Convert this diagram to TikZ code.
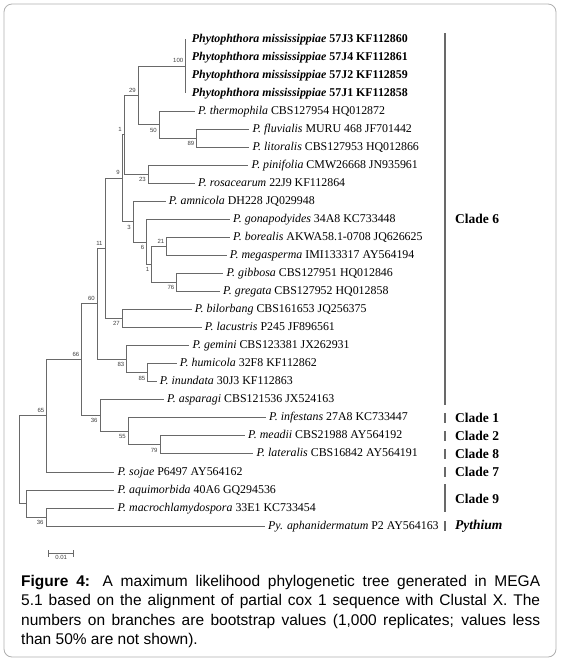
\documentclass[tikz,border=0pt]{standalone}
\usepackage{fontspec}
\setmainfont{Liberation Serif}
\newfontfamily\capfont{Liberation Sans}
\usepackage{xcolor}
\usepackage{tikz}
\usetikzlibrary{calc}
\usetikzlibrary{arrows}
\definecolor{branchgray}{RGB}{105,105,105}
\definecolor{framegray}{RGB}{175,175,175}
\tikzset{
	branch/.style={draw=branchgray,line width=1pt},
	leaf/.style={anchor=west,inner xsep=3pt,inner ysep=0pt,text height=8.5pt,text depth=2.5pt,font=\fontsize{11.9}{14}\selectfont},
	bs/.style={font=\capfont\fontsize{6}{7}\selectfont,text=black!75,inner xsep=2.3pt,inner ysep=3pt},
	cladebar/.style={draw=branchgray,line width=1.1pt},
	cladename/.style={anchor=west,inner xsep=0pt,font=\bfseries\fontsize{13.5}{15}\selectfont}
}

\begin{document}
\begin{tikzpicture}[x=1pt,y=-1pt]
	\useasboundingbox (0,0) rectangle (561,662);
	\draw[framegray,rounded corners=8pt,line width=0.8pt] (4,4) rectangle (556,657);

	\node[leaf,inner xsep=6pt] (mis3) at (185.7,39) {\textbf{\textit{Phytophthora mississippiae} 57J3 KF112860}};
	\node[leaf,inner xsep=6pt] (mis4) at (185.7,57.0) {\textbf{\textit{Phytophthora mississippiae} 57J4 KF112861}};
	\node[leaf,inner xsep=6pt] (mis2) at (185.7,75.1) {\textbf{\textit{Phytophthora mississippiae} 57J2 KF112859}};
	\node[leaf,inner xsep=6pt] (mis1) at (185.7,93.1) {\textbf{\textit{Phytophthora mississippiae} 57J1 KF112858}};
	\node[leaf] (therm) at (195,111.2) {\textit{P. thermophila} CBS127954 HQ012872};
	\node[leaf] (fluv) at (249.3,129.2) {\textit{P. fluvialis} MURU 468 JF701442};
	\node[leaf] (litor) at (249.3,147.2) {\textit{P. litoralis} CBS127953 HQ012866};
	\node[leaf] (pinif) at (248.3,165.3) {\textit{P. pinifolia} CMW26668 JN935961};
	\node[leaf] (rosac) at (195,183.3) {\textit{P. rosacearum} 22J9 KF112864};
	\node[leaf] (amnic) at (165.7,201.4) {\textit{P. amnicola} DH228 JQ029948};
	\node[leaf] (gonap) at (230,219.4) {\textit{P. gonapodyides} 34A8 KC733448};
	\node[leaf] (boreal) at (230,237.4) {\textit{P. borealis} AKWA58.1-0708 JQ626625};
	\node[leaf] (megasp) at (226.7,255.5) {\textit{P. megasperma} IMI133317 AY564194};
	\node[leaf] (gibbos) at (223.3,273.5) {\textit{P. gibbosa} CBS127951 HQ012846};
	\node[leaf] (gregat) at (220,291.6) {\textit{P. gregata} CBS127952 HQ012858};
	\node[leaf] (bilorb) at (191.7,309.6) {\textit{P. bilorbang} CBS161653 JQ256375};
	\node[leaf] (lacust) at (201.7,327.6) {\textit{P. lacustris} P245 JF896561};
	\node[leaf] (gemini) at (189.3,345.7) {\textit{P. gemini} CBS123381 JX262931};
	\node[leaf] (humic) at (176.7,363.7) {\textit{P. humicola} 32F8 KF112862};
	\node[leaf] (inund) at (156.7,381.8) {\textit{P. inundata} 30J3 KF112863};
	\node[leaf] (aspar) at (164,399.8) {\textit{P. asparagi} CBS121536 JX524163};
	\node[leaf] (infest) at (266,417.8) {\textit{P. infestans} 27A8 KC733447};
	\node[leaf] (meadii) at (245,435.9) {\textit{P. meadii} CBS21988 AY564192};
	\node[leaf] (later) at (253.3,453.9) {\textit{P. lateralis} CBS16842 AY564191};
	\node[leaf] (sojae) at (114.3,472.0) {\textit{P. sojae} P6497 AY564162};
	\node[leaf] (aquim) at (114.3,490.0) {\textit{P. aquimorbida} 40A6 GQ294536};
	\node[leaf] (macro) at (114.3,508.0) {\textit{P. macrochlamydospora} 33E1 KC733454};
	\node[leaf] (aphan) at (265,526.1) {\textit{Py. aphanidermatum} P2 AY564163};

	\coordinate (root) at (19,459.7);
	\coordinate (n65) at (46.7,415.9);
	\coordinate (nA) at (26,503.5);
	\coordinate (n36b) at (46,517);
	\coordinate (n66) at (81.7,359.7);
	\coordinate (n36a) at (100,415.6);
	\coordinate (n55) at (128.3,431.4);
	\coordinate (n79) at (160,444.9);
	\coordinate (n60) at (97.3,303.8);
	\coordinate (n83) at (126.7,359.2);
	\coordinate (n85) at (147.7,372.7);
	\coordinate (n11) at (105,248.4);
	\coordinate (n27) at (122.3,318.6);
	\coordinate (n9) at (122.3,178.2);
	\coordinate (n3) at (133.3,221.7);
	\coordinate (n6) at (146.7,242);
	\coordinate (n1b) at (151.7,264.5);
	\coordinate (n21) at (166.7,246.5);
	\coordinate (n76) at (176.7,282.5);
	\coordinate (n1a) at (124.3,134.8);
	\coordinate (n29) at (138.3,95.4);
	\coordinate (n23) at (148.3,174.3);
	\coordinate (n100) at (185.7,66.05);
	\coordinate (n50) at (159.3,124.7);
	\coordinate (n89) at (196.7,138.2);

	\draw[branch] (root) |- (n65) (root) |- (nA);
	\draw[branch] (n65) |- (n66) (n65) |- (sojae.west);
	\draw[branch] (nA) |- (aquim.west) (nA) |- (n36b);
	\draw[branch] (n36b) |- (macro.west) (n36b) |- (aphan.west);
	\draw[branch] (n66) |- (n60) (n66) |- (n36a);
	\draw[branch] (n36a) |- (aspar.west) (n36a) |- (n55);
	\draw[branch] (n55) |- (infest.west) (n55) |- (n79);
	\draw[branch] (n79) |- (meadii.west) (n79) |- (later.west);
	\draw[branch] (n60) |- (n11) (n60) |- (n83);
	\draw[branch] (n83) |- (gemini.west) (n83) |- (n85);
	\draw[branch] (n85) |- (humic.west) (n85) |- (inund.west);
	\draw[branch] (n11) |- (n9) (n11) |- (n27);
	\draw[branch] (n27) |- (bilorb.west) (n27) |- (lacust.west);
	\draw[branch] (n9) |- (n1a) (n9) |- (n3);
	\draw[branch] (n3) |- (amnic.west) (n3) |- (n6);
	\draw[branch] (n6) |- (gonap.west) (n6) |- (n1b);
	\draw[branch] (n1b) |- (n21) (n1b) |- (n76);
	\draw[branch] (n21) |- (boreal.west) (n21) |- (megasp.west);
	\draw[branch] (n76) |- (gibbos.west) (n76) |- (gregat.west);
	\draw[branch] (n1a) |- (n29) (n1a) |- (n23);
	\draw[branch] (n23) |- (pinif.west) (n23) |- (rosac.west);
	\draw[branch] (n29) |- (n100) (n29) |- (n50);
	\draw[branch] (n100) |- (mis3.west) (n100) |- (mis1.west);
	\draw[branch] (n50) |- (therm.west) (n50) |- (n89);
	\draw[branch] (n89) |- (fluv.west) (n89) |- (litor.west);

	\node[bs,above left] (b65) at (n65) {65};
	\node[bs,above left] (b66) at (n66) {66};
	\node[bs,above left] (b60) at (n60) {60};
	\node[bs,above left] (b11) at (n11) {11};
	\node[bs,above left] (b9) at (n9) {9};
	\node[bs,above left] (b1a) at (n1a) {1};
	\node[bs,above left] (b29) at (n29) {29};
	\node[bs,above left] (b100) at (n100) {100};
	\node[bs,above left] (b21) at (n21) {21};
	\node[bs,below left] (b50) at (n50) {50};
	\node[bs,below left] (b89) at (n89) {89};
	\node[bs,below left] (b23) at (n23) {23};
	\node[bs,below left] (b3) at (n3) {3};
	\node[bs,below left] (b6) at (n6) {6};
	\node[bs,below left] (b1b) at (n1b) {1};
	\node[bs,below left] (b76) at (n76) {76};
	\node[bs,below left] (b27) at (n27) {27};
	\node[bs,below left] (b83) at (n83) {83};
	\node[bs,below left] (b85) at (n85) {85};
	\node[bs,below left] (b36a) at (n36a) {36};
	\node[bs,below left] (b55) at (n55) {55};
	\node[bs,below left] (b79) at (n79) {79};
	\node[bs,below left] (b36b) at (n36b) {36};

	\coordinate (sbl) at (48.3,553.3);
	\coordinate (sbr) at (74,553.3);
	\draw[branch,line width=0.8pt,|-|] (sbl) -- (sbr);
	\node[bs,below,inner ysep=1.5pt] (sbtext) at ($(sbl)!0.5!(sbr)$) {0.01};

	\draw[cladebar] (445,33) -- (445,405);
	\node[cladename] (c6) at (455,219) {Clade 6};
	\draw[cladebar] (445,412.8) -- (445,422.8);
	\node[cladename] (c1) at (455,417.8) {Clade 1};
	\draw[cladebar] (445,430.9) -- (445,440.9);
	\node[cladename] (c2) at (455,435.9) {Clade 2};
	\draw[cladebar] (445,448.9) -- (445,458.9);
	\node[cladename] (c8) at (455,453.9) {Clade 8};
	\draw[cladebar] (445,467) -- (445,477);
	\node[cladename] (c7) at (455,472) {Clade 7};
	\draw[cladebar] (445,484) -- (445,512);
	\node[cladename] (c9) at (455,499) {Clade 9};
	\draw[cladebar] (445,521.1) -- (445,531.1);
	\node[cladename] (pyth) at (455,526.1) {\textit{Pythium}};

	\node[anchor=north west,inner sep=0pt,text width=519pt,align=justify,font=\capfont\fontsize{15.5}{19.3}\selectfont] (caption) at (21,575) {\textbf{Figure 4:} A maximum likelihood phylogenetic tree generated in MEGA\linebreak 5.1 based on the alignment of partial cox 1 sequence with Clustal X. The\linebreak numbers on branches are bootstrap values (1,000 replicates; values less\linebreak than 50\% are not shown).};
\end{tikzpicture}
\end{document}
